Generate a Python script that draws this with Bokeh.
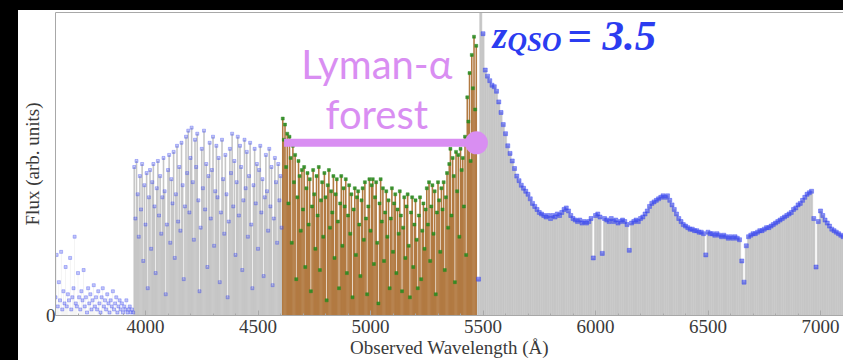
import numpy as np
from bokeh.plotting import figure
from bokeh.layouts import row, column
from bokeh.models import ColumnDataSource, FixedTicker, Label, Range1d, LinearAxis, Spacer
from bokeh.embed import file_html
from bokeh.resources import INLINE

# ---------------- data ----------------
z_qso = 3.5
lya_rest, lyb_rest = 1215.67, 1025.72          # Angstrom
forest_bar_level = 5.7                          # flux level of the forest marker bar

# wavelength grids (start, step) in Angstrom
uv_start, uv_step = 3600, 5          # below the Lyman limit
blue_start, blue_step = 3950, 5      # Ly-beta / higher-order forest
forest_start, forest_step = 4610, 5  # Lyman-alpha forest
red_start, red_step = 5480, 10       # red side of Ly-alpha

flux_uv = [0.6, 2.0, 0.3, 1.1, 0.5, 2.1, 0.2, 0.8, 0.4, 1.6,
           0.3, 0.7, 0.5, 1.9, 0.2, 0.6, 0.9, 2.6, 0.4, 0.3,
           1.4, 0.6, 0.2, 0.8, 0.5, 1.5, 0.3, 0.6, 0.1, 0.9,
           0.4, 0.7, 0.2, 0.5, 1.0, 0.3, 0.6, 0.2, 0.8, 0.4,
           0.1, 0.6, 0.9, 0.3, 0.5, 0.2, 0.7, 0.4, 0.1, 0.5,
           0.3, 0.8, 0.2, 0.4, 0.6, 0.1, 0.3, 0.5, 0.2, 0.4,
           0.1, 0.3, 0.2, 0.5, 0.1, 0.2, 0.3, 0.1, 0.2, 0.1]

flux_blue = [4.9, 3.2, 5.1, 4.0, 2.6, 4.6, 3.5, 5.0, 1.8, 4.3,
             3.0, 4.7, 0.9, 3.9, 4.8, 2.2, 4.4, 5.0, 3.6, 1.4,
             4.2, 5.1, 3.3, 4.6, 2.7, 3.9, 5.2, 4.1, 0.7, 3.0,
             4.8, 5.3, 2.4, 4.5, 3.7, 5.4, 1.9, 4.0, 5.6, 3.1,
             4.9, 2.8, 5.7, 4.3, 1.2, 3.6, 5.9, 4.7, 6.1, 3.4,
             5.2, 6.2, 4.4, 2.5, 5.8, 4.9, 6.0, 3.8, 0.8, 2.9,
             5.5, 4.2, 6.1, 3.5, 5.0, 1.6, 4.6, 5.7, 3.2, 4.8,
             5.9, 2.3, 4.1, 5.6, 3.9, 5.2, 1.1, 3.4, 5.8, 4.5,
             2.7, 5.3, 4.0, 0.6, 3.1, 5.5, 4.7, 6.0, 3.6, 5.1,
             2.0, 4.4, 5.9, 3.3, 5.6, 4.9, 1.5, 3.8, 5.8, 4.2,
             5.4, 2.6, 4.6, 5.7, 3.0, 0.9, 4.3, 5.5, 3.7, 5.0,
             2.2, 4.8, 5.6, 3.4, 4.5, 1.3, 3.9, 5.3, 4.1, 2.8,
             5.5, 3.6, 4.9, 1.0, 3.2, 5.2, 4.4, 2.4, 5.0, 3.8,
             4.6, 2.9]

flux_forest = [6.5, 5.8, 6.3, 4.9, 6.0, 3.7, 5.9, 5.2, 2.4, 5.6,
               4.4, 5.3, 1.2, 3.9, 5.1, 4.6, 2.8, 4.8,
               3.5, 4.9, 1.6, 4.2, 4.7, 3.0, 4.5, 0.8, 3.6, 4.8,
               4.0, 2.2, 4.6, 3.3, 4.9, 1.5, 3.8, 4.4, 2.6, 4.7,
               3.9, 0.5, 4.3, 4.8, 2.9, 4.1, 3.4, 4.6, 1.9, 4.0,
               4.5, 3.1, 0.9, 3.7, 4.6, 2.3, 4.2, 3.6, 4.5, 1.4,
               3.3, 4.3, 2.7, 4.0, 0.6, 3.5, 4.2, 2.0, 3.9, 4.1,
               3.0, 1.3, 3.8, 4.2, 2.5, 4.4, 3.2, 0.7, 3.6, 4.5,
               2.8, 4.3, 4.5, 1.7, 3.9, 4.4, 2.4, 0.4, 3.7, 4.5,
               3.1, 4.2, 1.8, 3.4, 4.1, 2.6, 3.8, 0.9, 3.2, 4.2,
               2.1, 3.7, 4.0, 1.4, 3.5, 2.7, 4.1, 3.3, 0.8, 2.9,
               3.9, 1.9, 3.6, 4.0, 2.3, 0.6, 3.4, 3.9, 1.6, 3.0,
               3.8, 2.5, 0.9, 3.3, 3.9, 1.2, 2.8, 3.7, 2.2, 3.5,
               4.2, 3.0, 4.4, 1.8, 3.6, 4.3, 2.7, 4.1, 0.7, 3.4,
               4.4, 3.8, 2.1, 4.2, 3.5, 4.4, 1.5, 3.9, 4.7, 2.9,
               5.0, 5.5, 3.3, 5.2, 4.6, 1.1, 5.4, 4.1, 5.3, 2.6,
               5.5, 4.8, 5.2, 3.6, 5.9, 2.0, 7.2, 6.4, 8.0, 5.1,
               8.6, 7.5, 9.2, 6.8, 8.9]

flux_red = [1.2, 10.2, 9.3, 8.1, 7.9, 7.75, 7.6, 7.55, 7.4, 7.05,
            6.7, 6.3, 6.0, 5.6, 5.35, 5.1, 4.85, 4.6, 4.45, 4.3,
            4.2, 4.1, 4.0, 3.85, 3.7, 3.6, 3.5, 3.4, 3.35, 3.3,
            3.25, 3.3, 3.2, 3.3, 3.25, 3.35, 3.3, 3.4, 3.5, 3.55,
            3.45, 3.3, 3.2, 3.15, 3.1, 3.15, 3.05, 3.1, 3.05, 3.1,
            3.2, 1.9, 3.3, 3.35, 3.25, 2.05, 3.2, 3.15, 3.1, 3.2,
            3.1, 3.15, 3.05, 3.1, 3.15, 3.1, 3.0, 2.15, 3.05, 3.1,
            3.15, 3.1, 3.2, 3.25, 3.35, 3.45, 3.6, 3.7, 3.75, 3.8,
            3.85, 3.9, 3.95, 3.9, 3.95, 3.8, 3.65, 3.5, 3.35, 3.2,
            3.1, 3.0, 2.95, 2.9, 2.85, 2.85, 2.8, 2.8, 2.75, 2.75,
            2.7, 2.0, 2.75, 2.7, 2.7, 2.65, 2.7, 2.65, 2.6, 2.65,
            2.6, 2.55, 2.6, 2.55, 2.6, 2.55, 2.5, 1.8, 1.1, 2.3,
            2.6, 2.65, 2.7, 2.7, 2.75, 2.8, 2.8, 2.85, 2.9, 2.9,
            2.95, 3.0, 3.05, 3.1, 3.15, 3.2, 3.25, 3.3, 3.35, 3.4,
            3.5, 3.55, 3.65, 3.7, 3.8, 3.9, 4.0, 4.05, 4.1, 3.2,
            1.6, 3.1, 3.45, 3.3, 3.15, 3.05, 2.95, 2.85, 2.8, 2.75,
            2.7, 2.65, 2.6]

x_ticks = [4000, 4500, 5000, 5500, 6000, 6500, 7000]
y_ticks = [0]

# ---------------- derived ----------------
def grid(start, step, vals):
    return start + step * np.arange(len(vals))

src_uv = ColumnDataSource(dict(x=grid(uv_start, uv_step, flux_uv), y=flux_uv))
src_blue = ColumnDataSource(dict(x=grid(blue_start, blue_step, flux_blue), y=flux_blue))
src_forest = ColumnDataSource(dict(x=grid(forest_start, forest_step, flux_forest), y=flux_forest))
src_red = ColumnDataSource(dict(x=grid(red_start, red_step, flux_red), y=flux_red))

lya_obs = lya_rest * (1 + z_qso)
lyb_obs = lyb_rest * (1 + z_qso)

GRAY = "#c6c6c6"
BROWN = "#b27a42"
BLUE = "#3a48f0"
GREEN = "#2a8a1f"
VIOLET = "#d98ef2"
ZBLUE = "#2b3cf0"
AXIS = "#a8a8a8"
SERIF = "Liberation Serif"

p = figure(width=825, height=350, x_range=Range1d(3600, 7102), y_range=Range1d(0, 10),
           output_backend="svg", toolbar_location=None,
           min_border_left=37, min_border_right=0, min_border_top=2, min_border_bottom=44)
p.background_fill_color = "white"
p.border_fill_color = "white"
p.outline_line_color = None
p.xgrid.visible = False
p.ygrid.visible = False

# spectrum bars
p.vbar(x="x", top="y", bottom=0, width=1.5, source=src_uv, fill_color="#dedede", line_color=None)
p.vbar(x="x", top="y", bottom=0, width=1.4 * blue_step, source=src_blue, fill_color=GRAY, line_color=None)
p.vbar(x="x", top="y", bottom=0, width=1.4 * forest_step, source=src_forest, fill_color=BROWN, line_color=None)
p.vbar(x="x", top="y", bottom=0, width=red_step, source=src_red, fill_color=GRAY,
       line_color=GRAY, line_width=0.5)

# spectrum points
for s in (src_uv, src_blue):
    p.scatter(x="x", y="y", source=s, marker="square", size=3, fill_color=BLUE, fill_alpha=0.3,
              line_color=BLUE, line_alpha=0.55, line_width=0.6)
p.scatter(x="x", y="y", source=src_red, marker="square", size=4, fill_color=BLUE, fill_alpha=0.6,
          line_color=BLUE, line_alpha=0.7, line_width=0.6)
p.scatter(x="x", y="y", source=src_forest, marker="square", size=3, fill_color=GREEN, fill_alpha=0.9,
          line_color=GREEN, line_alpha=0.9, line_width=0.5)

# forest marker
p.segment(x0=[lyb_obs], y0=[forest_bar_level], x1=[lya_obs], y1=[forest_bar_level],
          line_color=VIOLET, line_width=8)
p.scatter(x=[lya_obs], y=[forest_bar_level], size=23, marker="circle",
          fill_color=VIOLET, line_color=None)

mid = 0.5 * (lyb_obs + lya_obs) - 15
p.add_layout(Label(x=mid, y=8.29, text="Lyman-α", text_align="center", text_baseline="alphabetic",
                   text_font="Lato", text_font_size="40px", text_color=VIOLET))
p.add_layout(Label(x=mid, y=6.64, text="forest", text_align="center", text_baseline="alphabetic",
                   text_font="Lato", text_font_size="40px", text_color=VIOLET))

p.add_layout(Label(x=5542, y=9.25, text="z", text_baseline="alphabetic", text_font=SERIF,
                   text_font_style="bold italic", text_font_size="38px", text_color=ZBLUE))
p.add_layout(Label(x=5609, y=9.02, text="QSO", text_baseline="alphabetic", text_font=SERIF,
                   text_font_style="bold italic", text_font_size="27px", text_color=ZBLUE))
p.add_layout(Label(x=5874, y=9.25, text="= %.1f" % z_qso, text_baseline="alphabetic", text_font=SERIF,
                   text_font_style="bold italic", text_font_size="43px", text_color=ZBLUE))

# axes
p.xaxis.ticker = FixedTicker(ticks=x_ticks, minor_ticks=list(range(3600, 7101, 100)))
p.yaxis.ticker = FixedTicker(ticks=y_ticks)
for ax in (p.xaxis[0], p.yaxis[0]):
    ax.axis_line_color = AXIS
    ax.major_tick_line_color = AXIS
    ax.minor_tick_line_color = AXIS
    ax.major_label_text_font = SERIF
    ax.major_label_text_font_size = "19px"
    ax.major_label_text_color = "#3a3a3a"
    ax.axis_label_text_font = SERIF
    ax.axis_label_text_font_style = "normal"
    ax.axis_label_text_font_size = "19px"
    ax.axis_label_text_color = "#3a3a3a"
p.xaxis.major_tick_in = 5
p.xaxis.major_tick_out = 0
p.xaxis.minor_tick_in = 2
p.xaxis.minor_tick_out = 0
p.yaxis.major_tick_in = 0
p.yaxis.major_tick_out = 0
p.yaxis.minor_tick_line_color = None
p.xaxis.major_label_standoff = 4
p.yaxis.major_label_standoff = 0
p.xaxis.axis_label = "Observed Wavelength (Å)"
p.yaxis.axis_label = "Flux (arb. units)"
p.xaxis.axis_label_standoff = 1
p.yaxis.axis_label_standoff = 0

# top frame line
top_axis = LinearAxis(ticker=FixedTicker(ticks=[]), axis_line_color=AXIS,
                      major_tick_line_color=None, minor_tick_line_color=None,
                      major_label_text_font_size="0px", major_label_standoff=0)
p.add_layout(top_axis, "above")

# black surround of the photographed slide
top_band = Spacer(width=843, height=10, styles={"background-color": "black"})
left_band = Spacer(width=18, height=350, styles={"background-color": "black"})
layout = column(top_band, row(left_band, p, spacing=0), spacing=0)

open("out.html", "w").write(file_html(layout, INLINE))
